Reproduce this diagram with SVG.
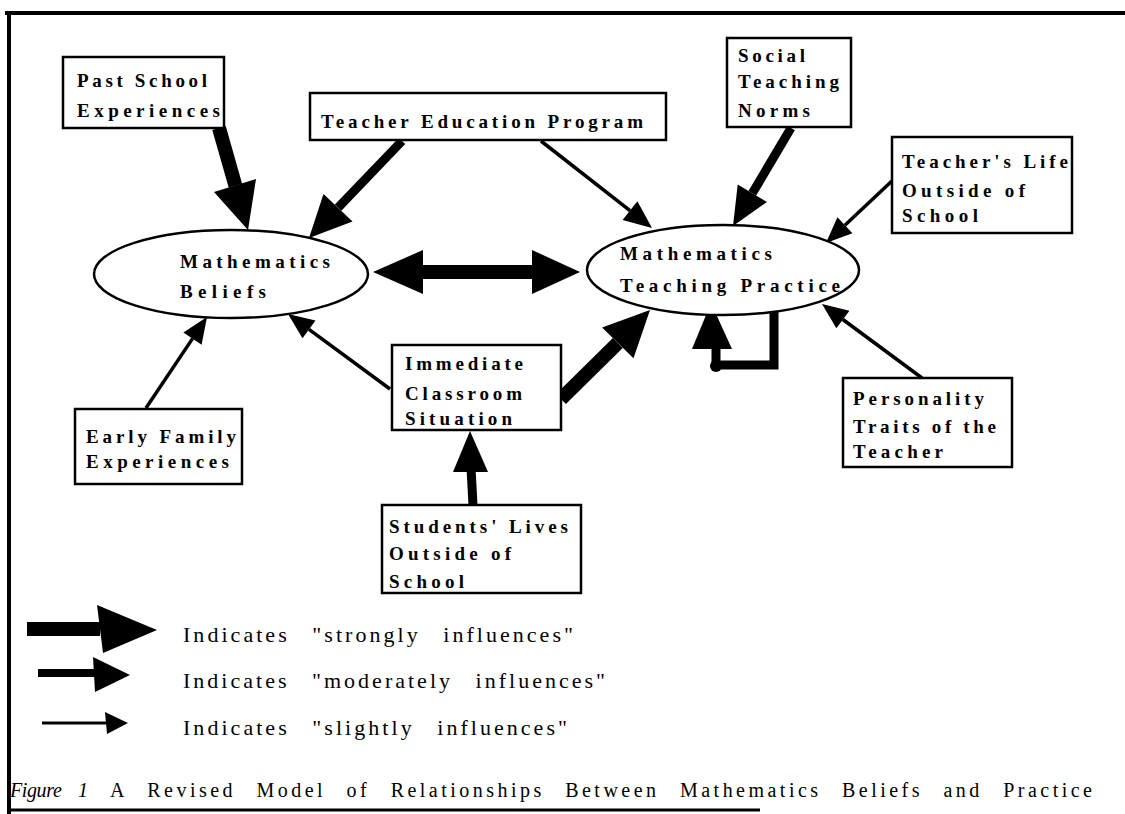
<svg xmlns="http://www.w3.org/2000/svg" width="1125" height="814" viewBox="0 0 1125 814">
<style>
.box{fill:#fff;stroke:#000;stroke-width:2.5}
.ell{fill:#fff;stroke:#000;stroke-width:2.5}
.t{font-family:"Liberation Serif","Times New Roman",serif;font-size:19px;font-weight:bold;fill:#000}
.lg{font-family:"Liberation Serif","Times New Roman",serif;font-size:22px;word-spacing:14px;fill:#000}
.cap{font-family:"Liberation Serif","Times New Roman",serif;font-size:20px;word-spacing:12px;fill:#000}
.strong{stroke:#000;stroke-width:14;fill:none}
.mod{stroke:#000;stroke-width:9;fill:none}
.slight{stroke:#000;stroke-width:3.5;fill:none}
.head{fill:#000;stroke:none}
.frame{stroke:#000;fill:none}
</style>
<rect x="0" y="0" width="1125" height="814" fill="#fff"/>
<g id="frame">
<line class="frame" x1="5" y1="13" x2="1125" y2="13" stroke-width="4"/>
<line class="frame" x1="9" y1="12" x2="9" y2="814" stroke-width="4"/>
<line class="frame" x1="9" y1="810" x2="760" y2="810" stroke-width="3"/>
</g>
<g id="connectors">
<line class="strong" x1="219" y1="128" x2="235.4" y2="185.7"/>
<polygon class="head" points="214,192 248,230 256,179"/>
<line class="mod" x1="402" y1="141" x2="338.1" y2="207.7"/>
<polygon class="head" points="323.5,194 309,238 352.5,221.5"/>
<line class="strong" x1="420" y1="272" x2="535" y2="272"/>
<polygon class="head" points="373,272 423,250 423,294"/>
<polygon class="head" points="580,272 532,250 532,294"/>
<line class="slight" x1="541" y1="141" x2="630" y2="210.7"/>
<polygon class="head" points="622.6,220.1 652,228 637.4,201.3"/>
<line class="mod" x1="791" y1="128" x2="752.3" y2="193.3"/>
<polygon class="head" points="737.7,184.6 733,226 766.9,202"/>
<line class="slight" x1="893" y1="180" x2="844.9" y2="225.2"/>
<polygon class="head" points="837.4,217.2 826,243 852.4,233.2"/>
<line class="slight" x1="922" y1="378" x2="842.9" y2="319.5"/>
<polygon class="head" points="849.4,310.7 822,304 836.4,328.3"/>
<line class="strong" x1="561" y1="399" x2="617.8" y2="342.9"/>
<polygon class="head" points="633.5,358.3 650,310 602.1,327.5"/>
<line class="slight" x1="390" y1="389" x2="309" y2="329.4"/>
<polygon class="head" points="315.5,320.5 288,314 302.5,338.3"/>
<line class="slight" x1="146" y1="408" x2="192.5" y2="338.6"/>
<polygon class="head" points="201.6,344.7 207,317 183.4,332.5"/>
<line class="mod" x1="473" y1="505" x2="471" y2="468"/>
<polygon class="head" points="470,431 453,472 488,472"/>
<path class="mod" d="M774 309 V365 H716 V345"/>
<polygon class="head" points="711,303 692,349 732,349"/>
<circle cx="716" cy="366" r="6" fill="#000"/>
</g>
<g id="past-school">
<rect class="box" x="63" y="57" width="161" height="71"/>
<text class="t" x="77" y="87" textLength="130" lengthAdjust="spacing">Past School</text>
<text class="t" x="77" y="117" textLength="143" lengthAdjust="spacing">Experiences</text>
</g>
<g id="teacher-education">
<rect class="box" x="310" y="93" width="356" height="47"/>
<text class="t" x="321" y="128" textLength="322" lengthAdjust="spacing">Teacher Education Program</text>
</g>
<g id="social-norms">
<rect class="box" x="727" y="38" width="124" height="89"/>
<text class="t" x="738" y="62" textLength="67" lengthAdjust="spacing">Social</text>
<text class="t" x="738" y="88" textLength="101" lengthAdjust="spacing">Teaching</text>
<text class="t" x="738" y="117" textLength="72" lengthAdjust="spacing">Norms</text>
</g>
<g id="teachers-life">
<rect class="box" x="892" y="137" width="180" height="96"/>
<text class="t" x="902" y="168" textLength="166" lengthAdjust="spacing">Teacher's Life</text>
<text class="t" x="902" y="197" textLength="123" lengthAdjust="spacing">Outside of</text>
<text class="t" x="902" y="222" textLength="76" lengthAdjust="spacing">School</text>
</g>
<g id="beliefs">
<ellipse class="ell" cx="231" cy="274" rx="137" ry="44"/>
<text class="t" x="180" y="268" textLength="150" lengthAdjust="spacing">Mathematics</text>
<text class="t" x="180" y="298" textLength="86" lengthAdjust="spacing">Beliefs</text>
</g>
<g id="practice">
<ellipse class="ell" cx="723" cy="270" rx="136" ry="45"/>
<text class="t" x="620" y="260" textLength="152" lengthAdjust="spacing">Mathematics</text>
<text class="t" x="620" y="292" textLength="220" lengthAdjust="spacing">Teaching Practice</text>
</g>
<g id="classroom">
<rect class="box" x="392" y="345" width="169" height="85"/>
<text class="t" x="405" y="370" textLength="118" lengthAdjust="spacing">Immediate</text>
<text class="t" x="405" y="400" textLength="117" lengthAdjust="spacing">Classroom</text>
<text class="t" x="405" y="425" textLength="107" lengthAdjust="spacing">Situation</text>
</g>
<g id="family">
<rect class="box" x="75" y="409" width="167" height="75"/>
<text class="t" x="86" y="443" textLength="150" lengthAdjust="spacing">Early Family</text>
<text class="t" x="86" y="468" textLength="143" lengthAdjust="spacing">Experiences</text>
</g>
<g id="students">
<rect class="box" x="382" y="505" width="199" height="88"/>
<text class="t" x="389" y="533" textLength="179" lengthAdjust="spacing">Students' Lives</text>
<text class="t" x="389" y="560" textLength="122" lengthAdjust="spacing">Outside of</text>
<text class="t" x="389" y="588" textLength="75" lengthAdjust="spacing">School</text>
</g>
<g id="personality">
<rect class="box" x="843" y="378" width="169" height="89"/>
<text class="t" x="853" y="405" textLength="131" lengthAdjust="spacing">Personality</text>
<text class="t" x="853" y="433" textLength="143" lengthAdjust="spacing">Traits of the</text>
<text class="t" x="853" y="458" textLength="90" lengthAdjust="spacing">Teacher</text>
</g>
<g id="legend">
<line class="strong" x1="27" y1="629" x2="100" y2="629"/>
<polygon class="head" points="97,605 157,630 103,653"/>
<text class="lg" x="183" y="642" textLength="390" lengthAdjust="spacing">Indicates "strongly influences"</text>
<line stroke="#000" stroke-width="8" x1="38" y1="673" x2="95" y2="673"/>
<polygon class="head" points="93,657 130,675 95,692"/>
<text class="lg" x="183" y="688" textLength="422" lengthAdjust="spacing">Indicates "moderately influences"</text>
<line stroke="#000" stroke-width="3" x1="42" y1="723" x2="107" y2="723"/>
<polygon class="head" points="105,712 128,723 107,734"/>
<text class="lg" x="183" y="735" textLength="384" lengthAdjust="spacing">Indicates "slightly influences"</text>
</g>
<g id="caption">
<text class="cap" x="10" y="797" font-style="italic" textLength="78" lengthAdjust="spacing">Figure 1</text>
<text class="cap" x="110" y="797" textLength="982" lengthAdjust="spacing">A Revised Model of Relationships Between Mathematics Beliefs and Practice</text>
</g>
</svg>
